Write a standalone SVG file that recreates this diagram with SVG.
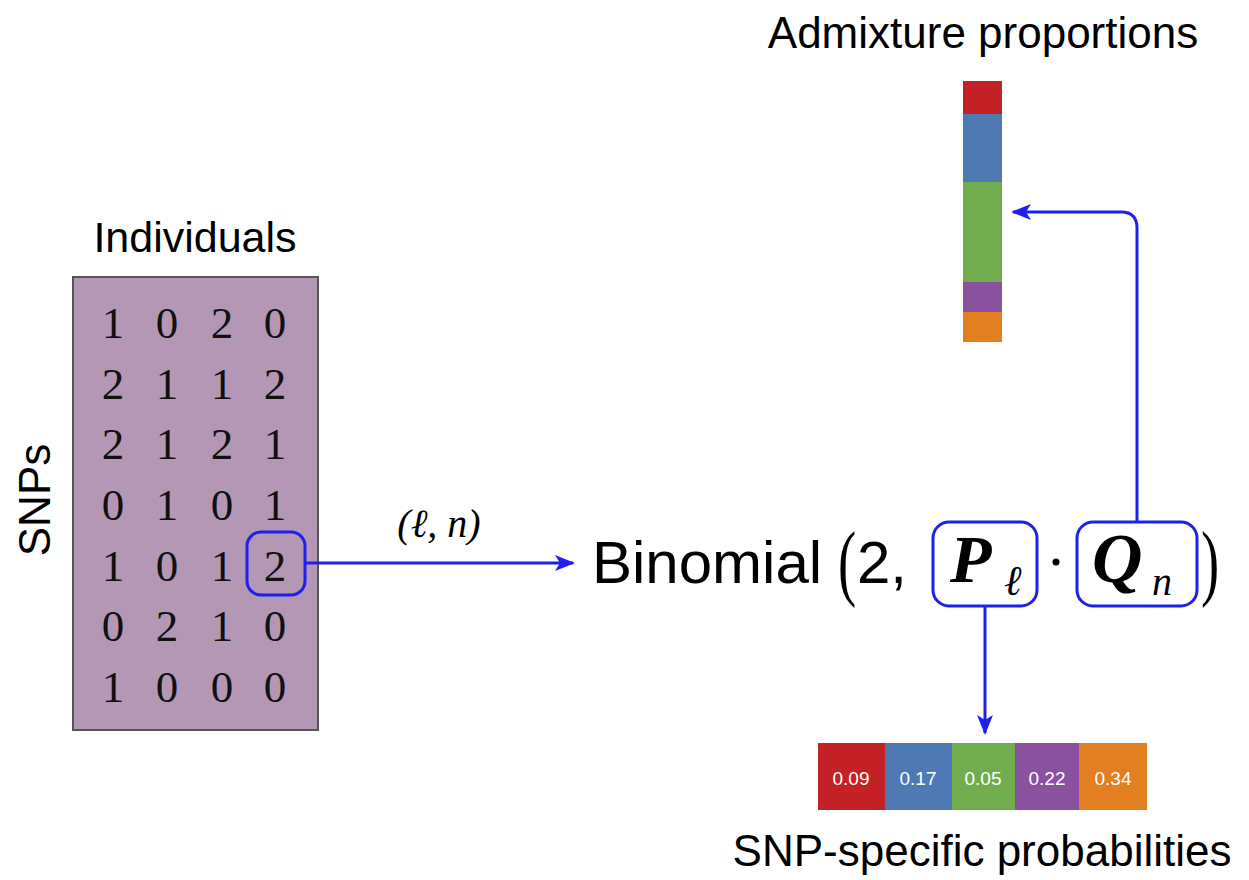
<svg xmlns="http://www.w3.org/2000/svg" width="1249" height="880" viewBox="0 0 1249 880">
<style>
.lbl{font-family:"Liberation Sans",Arial,sans-serif;fill:#000;}
.num{font-family:"Liberation Serif","DejaVu Serif",serif;font-size:45px;fill:#111;text-anchor:middle;}
.math{font-family:"Liberation Serif","DejaVu Serif",serif;fill:#000;}
.prob{font-family:"Liberation Sans",Arial,sans-serif;font-size:19px;fill:#fff;text-anchor:middle;}
.conn{fill:none;stroke:#1f1ff0;stroke-width:3;}
.hl{fill:none;stroke:#1f1ff0;stroke-width:3;}
</style>
<defs>
<marker id="ah" viewBox="0 0 20 16" refX="18" refY="8" markerWidth="20" markerHeight="16" markerUnits="userSpaceOnUse" orient="auto">
<path d="M0,0 L20,8 L0,16 L5,8 Z" fill="#1f1ff0"/>
</marker>
</defs>

<g id="matrix">
<text class="lbl" x="195" y="252" font-size="43" text-anchor="middle">Individuals</text>
<text class="lbl" x="0" y="0" font-size="44" text-anchor="middle" transform="translate(50,500) rotate(-90)">SNPs</text>
<rect x="73" y="277" width="245" height="453" fill="#b497b4" stroke="#555" stroke-width="2"/>
<g>
<text class="num" x="113" y="338">1</text><text class="num" x="167" y="338">0</text><text class="num" x="222" y="338">2</text><text class="num" x="275" y="338">0</text>
<text class="num" x="113" y="399">2</text><text class="num" x="167" y="399">1</text><text class="num" x="222" y="399">1</text><text class="num" x="275" y="399">2</text>
<text class="num" x="113" y="459">2</text><text class="num" x="167" y="459">1</text><text class="num" x="222" y="459">2</text><text class="num" x="275" y="459">1</text>
<text class="num" x="113" y="520">0</text><text class="num" x="167" y="520">1</text><text class="num" x="222" y="520">0</text><text class="num" x="275" y="520">1</text>
<text class="num" x="113" y="581">1</text><text class="num" x="167" y="581">0</text><text class="num" x="222" y="581">1</text><text class="num" x="275" y="581">2</text>
<text class="num" x="113" y="641">0</text><text class="num" x="167" y="641">2</text><text class="num" x="222" y="641">1</text><text class="num" x="275" y="641">0</text>
<text class="num" x="113" y="702">1</text><text class="num" x="167" y="702">0</text><text class="num" x="222" y="702">0</text><text class="num" x="275" y="702">0</text>
</g>
<rect class="hl" x="247" y="532" width="58" height="63" rx="14"/>
</g>

<g id="binomial">
<text class="lbl" x="592" y="583" font-size="60">Binomial</text>
<text class="math" font-size="84" transform="translate(838,590) scale(0.65,1)">(</text>
<text class="lbl" x="857" y="583" font-size="60">2,</text>
<rect class="hl" x="933" y="522" width="104" height="84" rx="16"/>
<text class="math" x="950" y="582" font-size="68" font-style="italic" font-weight="bold">P</text>
<text class="math" x="1004" y="595" font-size="42" font-style="italic">ℓ</text>
<circle cx="1056" cy="562" r="3.5" fill="#000"/>
<rect class="hl" x="1077" y="522" width="120" height="84" rx="16"/>
<text class="math" x="1092" y="582" font-size="70" font-style="italic" font-weight="bold">Q</text>
<text class="math" x="1152" y="595" font-size="40" font-style="italic">n</text>
<text class="math" font-size="84" transform="translate(1201,590) scale(0.65,1)">)</text>
</g>

<g id="admixture">
<text class="lbl" x="983" y="48" font-size="44" text-anchor="middle">Admixture proportions</text>
<rect x="963" y="81" width="39" height="33" fill="#c42126"/>
<rect x="963" y="114" width="39" height="68" fill="#4e79b2"/>
<rect x="963" y="182" width="39" height="100" fill="#71ad4f"/>
<rect x="963" y="282" width="39" height="30" fill="#8a519f"/>
<rect x="963" y="312" width="39" height="30" fill="#e17f21"/>
</g>

<g id="snp-probs">
<rect x="818" y="743" width="67" height="67" fill="#c42126"/>
<rect x="885" y="743" width="67" height="67" fill="#4e79b2"/>
<rect x="952" y="743" width="63" height="67" fill="#71ad4f"/>
<rect x="1015" y="743" width="64" height="67" fill="#8a519f"/>
<rect x="1079" y="743" width="68" height="67" fill="#e17f21"/>
<text class="prob" x="851" y="785">0.09</text>
<text class="prob" x="918" y="785">0.17</text>
<text class="prob" x="983" y="785">0.05</text>
<text class="prob" x="1047" y="785">0.22</text>
<text class="prob" x="1113" y="785">0.34</text>
<text class="lbl" x="982" y="866" font-size="44" text-anchor="middle">SNP-specific probabilities</text>
</g>

<g id="connectors">
<path class="conn" d="M305,563 L573,563" marker-end="url(#ah)"/>
<text class="math" x="439" y="537" font-size="40" font-style="italic" text-anchor="middle">(ℓ, n)</text>
<path class="conn" d="M985,606 L985,733" marker-end="url(#ah)"/>
<path class="conn" d="M1137,522 L1137,228 Q1137,212 1121,212 L1013,212" marker-end="url(#ah)"/>
</g>
</svg>
